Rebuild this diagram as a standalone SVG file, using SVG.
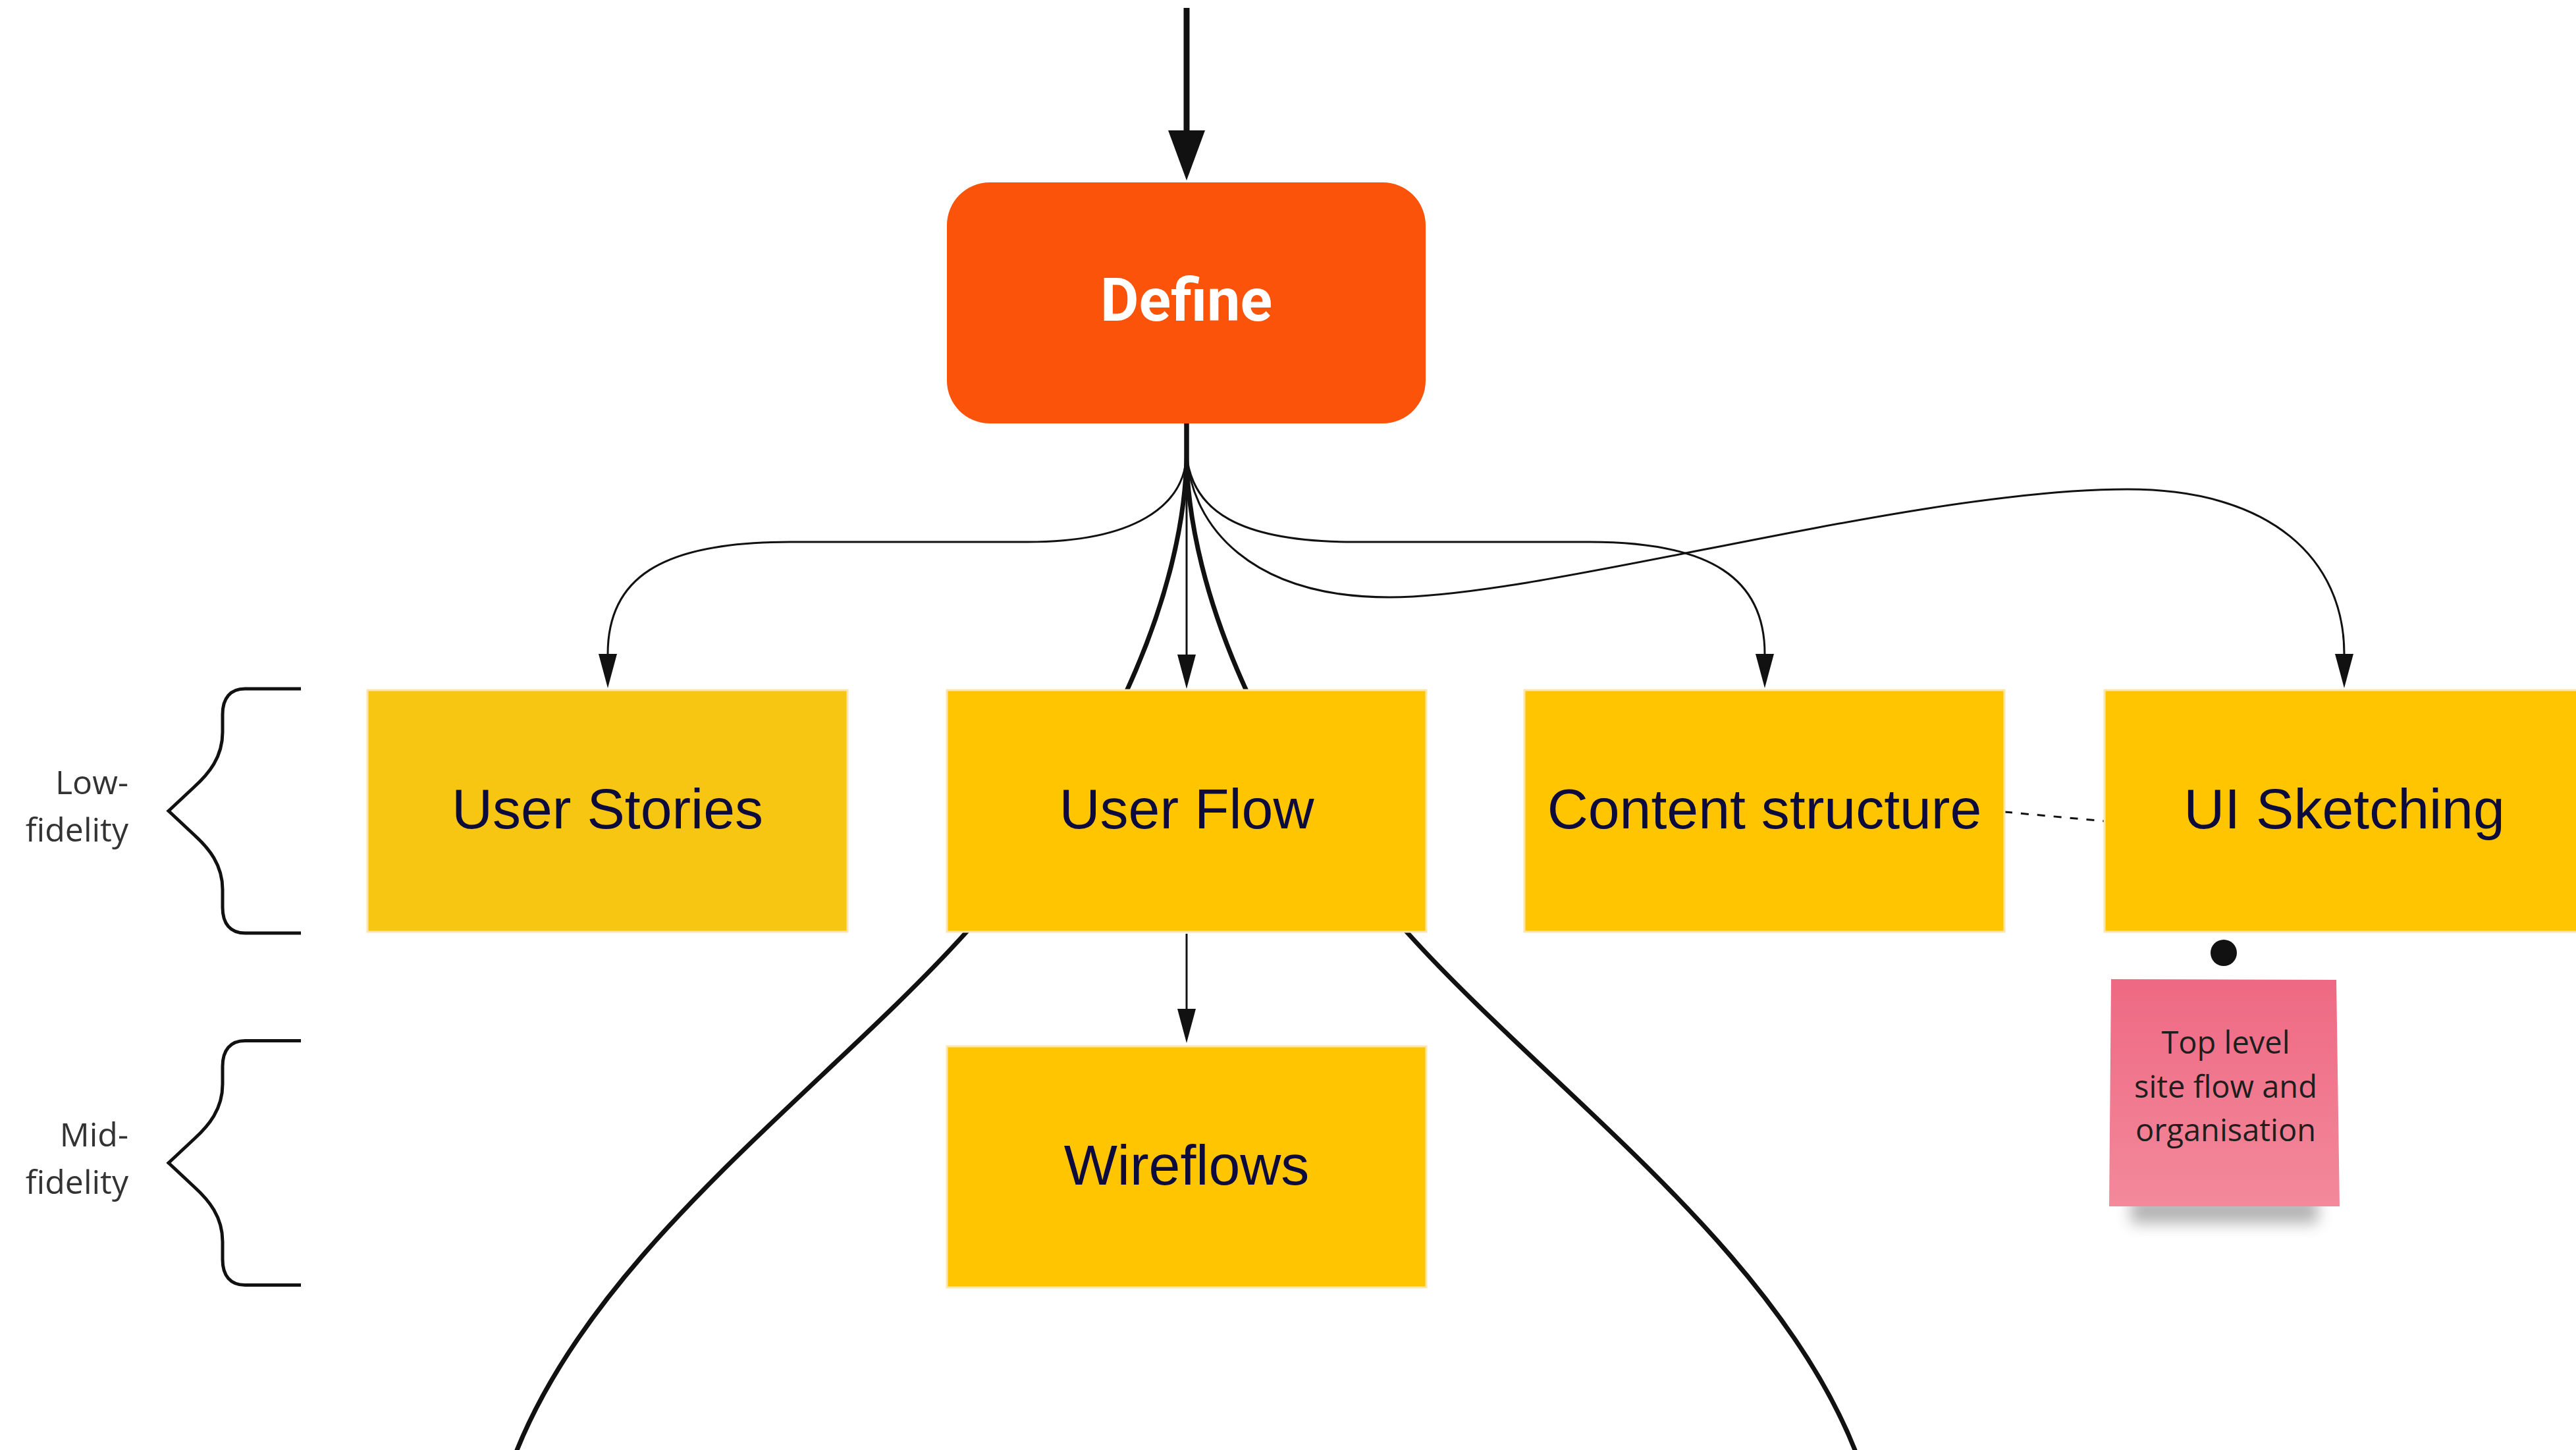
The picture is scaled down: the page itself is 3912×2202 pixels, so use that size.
<svg xmlns="http://www.w3.org/2000/svg" width="3912" height="2202" viewBox="0 0 3912 2202">
  <defs>
    <style>
      .box{stroke:#FDE6A8;stroke-width:3}
      .yellow{fill:#FFC500}
      .lbl{font-family:"Liberation Sans",Arial,sans-serif;font-size:86px;fill:#0C0B3B;text-anchor:middle}
      .thin{fill:none;stroke:#111;stroke-width:3}
      .thick{fill:none;stroke:#111;stroke-width:7}
      .brace{fill:none;stroke:#111;stroke-width:5;stroke-linejoin:miter}
      .side{font-family:"Open Sans",sans-serif;font-size:50px;fill:#333;text-anchor:end}
      .note-txt{font-family:"Open Sans",sans-serif;font-size:47px;fill:#1E1E1E;text-anchor:middle}
    </style>
    <marker id="arr" markerUnits="userSpaceOnUse" viewBox="0 0 52 28" refX="0" refY="14" markerWidth="52" markerHeight="28" orient="auto">
      <path d="M0,0 L52,14 L0,28 Z" fill="#111"/>
    </marker>
    <marker id="arrBig" markerUnits="userSpaceOnUse" viewBox="0 0 76 56" refX="0" refY="28" markerWidth="76" markerHeight="56" orient="auto">
      <path d="M0,0 L76,28 L0,56 Z" fill="#111"/>
    </marker>
    <linearGradient id="noteFill" x1="0" y1="0" x2="0" y2="1">
      <stop offset="0" stop-color="#EE6983"/>
      <stop offset="1" stop-color="#F3899B"/>
    </linearGradient>
    <filter id="soft" x="-20%" y="-100%" width="140%" height="300%">
      <feGaussianBlur stdDeviation="11"/>
    </filter>
  </defs>

  <rect width="3912" height="2202" fill="#FFFFFF"/>

  <!-- connectors -->
  <g id="connectors">
    <path class="thin" style="stroke-width:9" d="M1802,12 L1802,198" marker-end="url(#arrBig)"/>
    <path class="thin" d="M1802,641 L1802,690 C1799,770 1720,823 1560,823 L1200,823 C1000,823 923,880 923,993" marker-end="url(#arr)"/>
    <path class="thin" d="M1802,641 L1802,994" marker-end="url(#arr)"/>
    <path class="thin" d="M1802,641 L1802,690 C1810,775 1880,823 2057,823 L2414,823 C2600,823 2680,880 2680,993" marker-end="url(#arr)"/>
    <path class="thin" d="M1802,641 L1802,690 C1810,800 1900,907 2110,907 C2350,907 2900,743 3231,743 C3450,743 3560,850 3560,993" marker-end="url(#arr)"/>
    <path class="thick" d="M1802,641 L1802,690 C1800,900 1680,1180 1468,1415 C1250,1657 900,1900 780,2215"/>
    <path class="thick" d="M1802,641 L1802,690 C1804,900 1924,1180 2136,1415 C2354,1657 2704,1900 2822,2215"/>
    <path class="thin" d="M1802,1418 L1802,1532" marker-end="url(#arr)"/>
    <path class="thin" d="M3044,1233 L3196,1247" stroke-dasharray="12 13"/>
  </g>

  <!-- fidelity braces -->
  <g id="brace-low">
    <path class="brace" d="M457,1046 L372,1046 C350,1046 338,1060 338,1085 L338,1112 C338,1150 317,1175 295,1195 L256,1231.5 L295,1268 C317,1288 338,1313 338,1351 L338,1378 C338,1403 350,1417 372,1417 L457,1417"/>
    <text class="side" x="195" y="1206">Low-</text>
    <text class="side" x="195" y="1278">fidelity</text>
  </g>
  <g id="brace-mid" transform="translate(0,534.5)">
    <path class="brace" d="M457,1046 L372,1046 C350,1046 338,1060 338,1085 L338,1112 C338,1150 317,1175 295,1195 L256,1231.5 L295,1268 C317,1288 338,1313 338,1351 L338,1378 C338,1403 350,1417 372,1417 L457,1417"/>
    <text class="side" x="195" y="1206">Mid-</text>
    <text class="side" x="195" y="1278">fidelity</text>
  </g>

  <!-- process nodes -->
  <g id="define">
    <rect x="1438" y="277" width="727" height="366" rx="65" fill="#FB530A"/>
    <text x="1801.5" y="487" style="font-family:Roboto,'Liberation Sans',sans-serif;font-weight:700;font-size:90px;fill:#FFFFFF;text-anchor:middle">Define</text>
  </g>
  <g id="user-stories">
    <rect class="box" x="558" y="1048" width="729" height="367" fill="#F7C613"/>
    <text class="lbl" x="922.5" y="1258">User Stories</text>
  </g>
  <g id="user-flow">
    <rect class="box yellow" x="1438" y="1048" width="728" height="367"/>
    <text class="lbl" x="1802" y="1258">User Flow</text>
  </g>
  <g id="content-structure">
    <rect class="box yellow" x="2315" y="1048" width="729" height="367"/>
    <text class="lbl" x="2679.5" y="1258">Content structure</text>
  </g>
  <g id="ui-sketching">
    <rect class="box yellow" x="3196" y="1048" width="728" height="367"/>
    <text class="lbl" x="3560" y="1258">UI Sketching</text>
  </g>
  <g id="wireflows">
    <rect class="box yellow" x="1438" y="1589" width="728" height="366"/>
    <text class="lbl" x="1802" y="1799">Wireflows</text>
  </g>

  <!-- sticky note pinned under UI Sketching -->
  <g id="note">
    <rect x="3236" y="1818" width="284" height="40" fill="#5A5A5A" opacity="0.45" filter="url(#soft)"/>
    <polygon points="3206,1487 3548,1488 3553,1832 3203,1832" fill="url(#noteFill)"/>
    <circle cx="3377" cy="1447" r="20" fill="#111"/>
    <text class="note-txt" x="3380" y="1600">Top level</text>
    <text class="note-txt" x="3380" y="1667">site flow and</text>
    <text class="note-txt" x="3380" y="1733">organisation</text>
  </g>
</svg>
